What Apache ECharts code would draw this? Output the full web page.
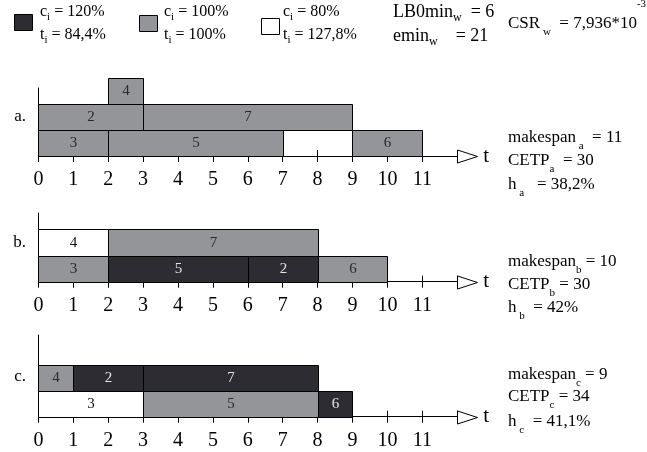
<!DOCTYPE html>
<html>
<head>
<meta charset="utf-8">
<script src="https://cdn.jsdelivr.net/npm/echarts@6/dist/echarts.min.js"></script>
<style>
html, body { margin: 0; padding: 0; background: #fff; }
#chart { width: 647px; height: 452px; }
</style>
</head>
<body>
<div id="chart"></div>
<script>
// Time axis (ticks 0..11, axis runs on to 12 where the arrow sits)
const timeTicks = [0, 1, 2, 3, 4, 5, 6, 7, 8, 9, 10, 11];
const timeMax = 12;

// Schedule a: job id, start, end, machine row, speed level (%)
const aJobs  = [3, 5, 6, 2, 7, 4];
const aStart = [0, 2, 9, 0, 3, 2];
const aEnd   = [2, 7, 11, 3, 9, 3];
const aRow   = [0, 0, 0, 1, 1, 2];
const aSpeed = [100, 100, 100, 100, 100, 100];

// Schedule b
const bJobs  = [3, 5, 2, 6, 4, 7];
const bStart = [0, 2, 6, 8, 0, 2];
const bEnd   = [2, 6, 8, 10, 2, 8];
const bRow   = [0, 0, 0, 0, 1, 1];
const bSpeed = [100, 120, 120, 100, 80, 100];

// Schedule c
const cJobs  = [3, 5, 6, 4, 2, 7];
const cStart = [0, 3, 8, 0, 1, 3];
const cEnd   = [3, 8, 9, 1, 3, 8];
const cRow   = [0, 0, 0, 1, 1, 1];
const cSpeed = [80, 100, 120, 100, 120, 120];

// Speed levels and relative processing times
const speedLevels = [120, 100, 80];
const speedTimes  = ['84,4%', '100%', '127,8%'];

// Per-schedule results
const panelNames = ['a', 'b', 'c'];
const makespans  = [11, 10, 9];
const cetps      = [30, 30, 34];
const hValues    = ['38,2%', '42%', '41,1%'];

const FONT = '"Liberation Serif", "Times New Roman", serif';
const fillBySpeed = { 120: '#2d2c32', 100: '#939598', 80: '#ffffff' };
const textBySpeed = { 120: '#e4e4e4', 100: '#2a2a2a', 80: '#111111' };

function buildData(jobs, start, end, row, speed) {
  return jobs.map((j, i) => [start[i], end[i], row[i], j, speed[i]]);
}

const schedules = [
  buildData(aJobs, aStart, aEnd, aRow, aSpeed),
  buildData(bJobs, bStart, bEnd, bRow, bSpeed),
  buildData(cJobs, cStart, cEnd, cRow, cSpeed)
];

// Panel layout
const gridLeft = 38.4, unit = 34.9;
const panels = [
  { top: 88,  height: 68,   yMax: 68 / 26 },
  { top: 213, height: 68.7, yMax: 68.7 / 26.2 },
  { top: 335, height: 81.7, yMax: 81.7 / 25.85 }
];

function renderBar(params, api) {
  const s = api.value(0), e = api.value(1), r = api.value(2);
  const sp = api.value(4);
  const p0 = api.coord([s, r]);
  const p1 = api.coord([e, r + 1]);
  const x0 = Math.round(p0[0]) + 0.5, x1 = Math.round(p1[0]) + 0.5;
  const y0 = Math.round(p0[1]) + 0.5, y1 = Math.round(p1[1]) + 0.5;
  return {
    type: 'rect',
    shape: { x: x0, y: y1, width: x1 - x0, height: y0 - y1 },
    style: { fill: fillBySpeed[sp], stroke: '#000', lineWidth: 1 },
    textContent: {
      style: { text: String(api.value(3)), fill: textBySpeed[sp], font: '15px ' + FONT }
    },
    textConfig: { position: 'inside' }
  };
}

function renderArrow(params, api) {
  const p = api.coord([api.value(0), 0]);
  const x = Math.round(p[0]) + 0.5, y = Math.round(p[1]) + 0.5;
  return {
    type: 'polygon',
    shape: { points: [[x, y - 6.5], [x + 20, y], [x, y + 6.5]] },
    style: { fill: '#fff', stroke: '#000', lineWidth: 1 }
  };
}

const grids = [], xAxes = [], tickAxes = [], yAxes = [], series = [];
panels.forEach((p, i) => {
  grids.push({ left: gridLeft, top: p.top, width: unit * timeMax, height: p.height });
  // main time axis: line, downward ticks, labels, arrow name
  xAxes.push({
    gridIndex: i, type: 'value', position: 'bottom', min: 0, max: timeMax, interval: 1,
    name: 't', nameLocation: 'end', nameGap: 26,
    nameTextStyle: { fontFamily: FONT, fontSize: 21, color: '#000', verticalAlign: 'middle' },
    axisLine: { lineStyle: { color: '#000', width: 1 } },
    axisTick: { inside: false, length: 6, lineStyle: { color: '#000', width: 1 } },
    axisLabel: {
      fontFamily: FONT, fontSize: 20, color: '#000', margin: 14,
      formatter: v => (timeTicks.indexOf(v) >= 0 ? String(v) : '')
    },
    splitLine: { show: false }
  });
  // companion axis carrying the upward half of each tick
  tickAxes.push({
    gridIndex: i, type: 'value', position: 'bottom', offset: 0, min: 0, max: timeMax, interval: 1,
    axisLine: { show: false },
    axisTick: { inside: true, length: 6, lineStyle: { color: '#000', width: 1 } },
    axisLabel: { show: false },
    splitLine: { show: false }
  });
  yAxes.push({
    gridIndex: i, type: 'value', min: 0, max: p.yMax,
    axisLine: { show: true, lineStyle: { color: '#000', width: 1 } },
    axisTick: { show: false }, axisLabel: { show: false }, splitLine: { show: false }
  });
  series.push({
    type: 'custom', xAxisIndex: i, yAxisIndex: i, z: 3, clip: false,
    renderItem: renderBar, encode: { x: [0, 1], y: 2 },
    data: schedules[i]
  });
  series.push({
    type: 'custom', xAxisIndex: i, yAxisIndex: i, z: 4, clip: false,
    renderItem: renderArrow, encode: { x: 0, y: 1 },
    data: [[timeMax, 0]]
  });
});

// Rich text styles for subscripts / superscripts
function richStyles(size, lh, subPad, supPad) {
  const small = Math.round(size * 0.66);
  return {
    m: { fontFamily: FONT, fontSize: size, lineHeight: lh, fill: '#000' },
    s: { fontFamily: FONT, fontSize: small, verticalAlign: 'bottom', padding: [0, 0, subPad || 0, 0], fill: '#000' },
    u: { fontFamily: FONT, fontSize: small, verticalAlign: 'top', padding: [supPad || 0, 0, 0, 0], fill: '#000' }
  };
}
function label(x, y, text, rich, align) {
  return {
    type: 'text', x: x, y: y, z: 10,
    style: { text: text, rich: rich, x: 0, y: 0, align: align || 'left', verticalAlign: 'middle', fill: '#000' }
  };
}

const graphics = [];
// Speed legend
const swatchX = [14, 139, 261], swatchY = [14, 15, 18], textX = [40, 164, 283];
speedLevels.forEach((lv, i) => {
  graphics.push({
    type: 'rect', x: swatchX[i] + 0.5, y: swatchY[i] + 0.5, z: 10,
    shape: { width: 18, height: 16 },
    style: { fill: fillBySpeed[lv], stroke: '#000', lineWidth: 1 }
  });
  const r = richStyles(16, 22);
  graphics.push(label(textX[i], 12, '{m|c}{s|i}{m| = ' + lv + '%}', r));
  graphics.push(label(textX[i], 35, '{m|t}{s|i}{m| = ' + speedTimes[i] + '}', r));
});
graphics.push(label(393, 12, '{m|LB0min}{s|w}{m|  = 6}', richStyles(18, 24)));
graphics.push(label(393, 36, '{m|emin}{s|w}{m|    = 21}', richStyles(18, 24)));
graphics.push(label(508, 24, '{m|CSR}{s| w}{m|  = 7,936*10}{u|-3}', richStyles(17, 50, 11, 0)));

// Panel letters and per-schedule results
const letterY = [117, 243, 377];
const resultY = [[138, 161, 185], [262, 285, 308], [375, 397, 422]];
panelNames.forEach((n, i) => {
  graphics.push(label(26, letterY[i], '{m|' + n + '.}', richStyles(17, 22), 'right'));
  const r = richStyles(17, 28);
  const pad = n === 'a' ? ' ' : '';
  graphics.push(label(508, resultY[i][0], '{m|makespan}{s|' + pad + n + '}{m| ' + pad + '= ' + makespans[i] + '}', r));
  graphics.push(label(508, resultY[i][1], '{m|CETP}{s|' + n + '}{m| ' + pad + '= ' + cetps[i] + '}', r));
  graphics.push(label(508, resultY[i][2], '{m|h}{s| ' + n + '}{m| ' + pad + ' = ' + hValues[i] + '}', r));
});

const chart = echarts.init(document.getElementById('chart'), null, { renderer: 'canvas' });
chart.setOption({
  animation: false,
  backgroundColor: '#fff',
  grid: grids,
  xAxis: xAxes.concat(tickAxes),
  yAxis: yAxes,
  series: series,
  graphic: { elements: graphics }
});
</script>
</body>
</html>
